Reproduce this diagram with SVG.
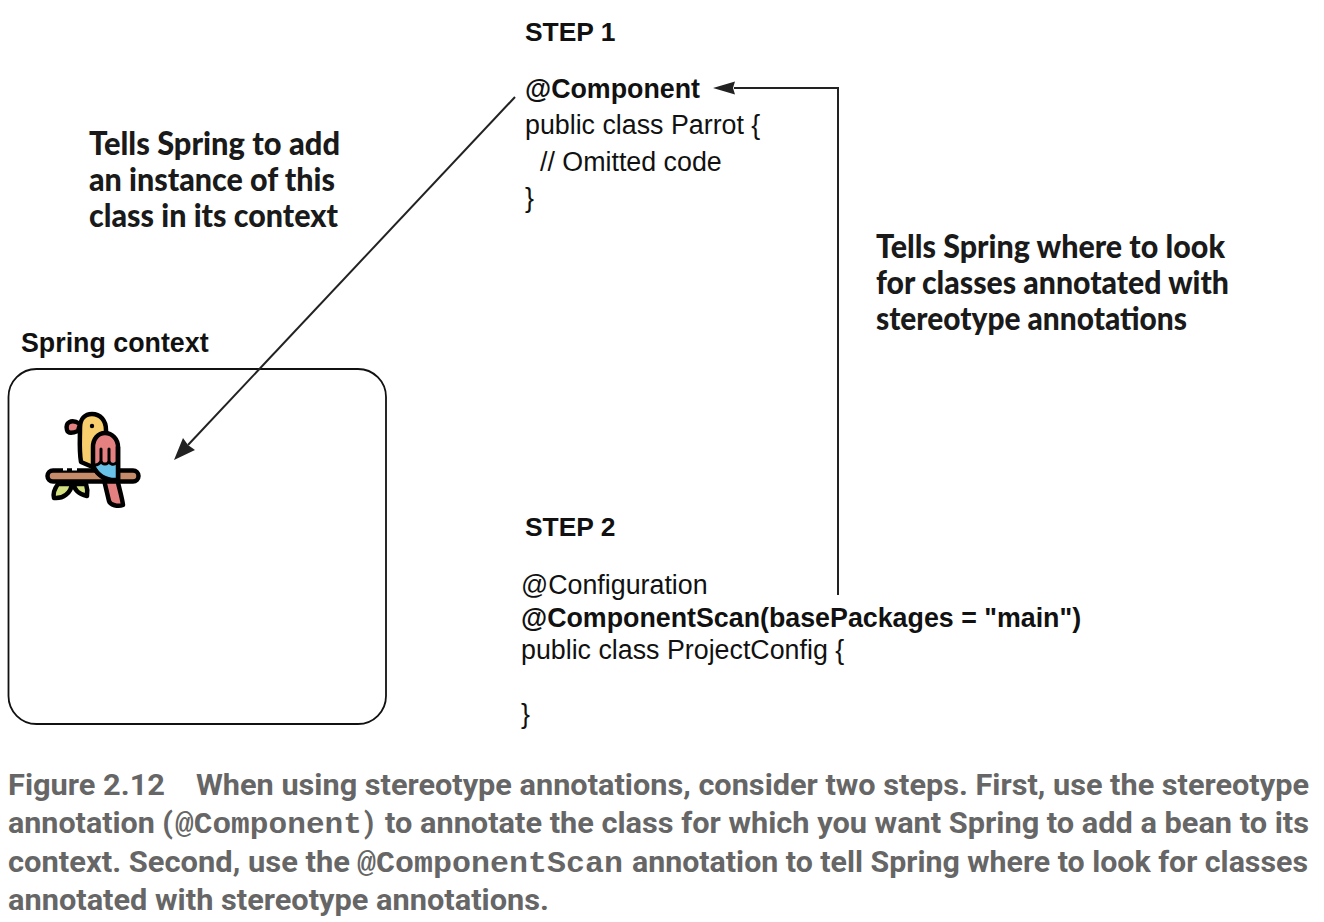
<svg xmlns="http://www.w3.org/2000/svg" width="1324" height="922" viewBox="0 0 1324 922">
<style>
.c{font-family:"Liberation Sans",Arial,sans-serif;font-size:26.800px;fill:#111}
.s{font-size:26.400px}
.b{font-weight:700}
.a{font-family:Lato,"Noto Sans",sans-serif;font-size:32px;font-weight:900;fill:#1a1a1a}
.f{font-family:Roboto,"Liberation Sans",sans-serif;font-size:29px;font-weight:700;fill:#666}
.m{font-family:"Liberation Mono",monospace;font-size:29px;font-weight:700;fill:#666}
.k{stroke:#000;stroke-width:4.500;stroke-linejoin:round;stroke-linecap:round}
.l{fill:none;stroke:#222;stroke-width:2}
.h{fill:#222}
</style>
<g id="spring-context">
<text class="c b" x="21" y="351.500">Spring context</text>
<rect x="8.500" y="369" width="377.500" height="355" rx="28" fill="#fff" stroke="#111" stroke-width="1.800"/>
</g>
<g id="connectors">
<path class="l" d="M838 595V88H734"/>
<path class="h" d="M713 88L735 81.500L733 88L735 94.500Z"/>
<path class="l" d="M515 97L188 445"/>
<path class="h" d="M174 460L183 438L188 445L195 450Z"/>
</g>
<g id="step1">
<text class="c b s" x="525" y="40.500">STEP 1</text>
<text class="c b" x="525" y="97.500">@Component</text>
<text class="c" x="525" y="133.500">public class Parrot {</text>
<text class="c" x="540" y="170.500">// Omitted code</text>
<text class="c" x="525" y="206.500">}</text>
</g>
<g id="step2">
<text class="c b s" x="525" y="536">STEP 2</text>
<text class="c" x="521" y="593.500">@Configuration</text>
<text class="c b" x="521" y="626.500">@ComponentScan(basePackages = "main")</text>
<text class="c" x="521" y="658.500">public class ProjectConfig {</text>
<text class="c" x="521" y="722.500">}</text>
</g>
<g id="note-add">
<text class="a" x="89" y="155" textLength="251" lengthAdjust="spacingAndGlyphs">Tells Spring to add</text>
<text class="a" x="89" y="191" textLength="246" lengthAdjust="spacingAndGlyphs">an instance of this</text>
<text class="a" x="89" y="227" textLength="249" lengthAdjust="spacingAndGlyphs">class in its context</text>
</g>
<g id="note-scan">
<text class="a" x="876" y="258" textLength="349" lengthAdjust="spacingAndGlyphs">Tells Spring where to look</text>
<text class="a" x="876" y="294" textLength="353" lengthAdjust="spacingAndGlyphs">for classes annotated with</text>
<text class="a" x="876" y="330" textLength="311" lengthAdjust="spacingAndGlyphs">stereotype annotations</text>
</g>
<g id="parrot">
<path class="k" fill="#D4E07F" d="M58 484C55 488 53 494 54 498C63 499 71 493 72 484Z"/>
<path class="k" fill="#D4E07F" d="M74 484C74 489 78 494 87 496C88 490 87 487 86 484Z"/>
<path class="k" fill="#E58080" d="M104 480L109 501C110 505 118 507 123 505C122 497 119 488 117 478Z"/>
<rect class="k" x="47.500" y="470.500" width="91" height="11" rx="5.500" fill="#C68C6A"/>
<path d="M63 468h4v2.500h-4zM72 468h5v2.500h-5z" fill="#fff"/>
<path class="k" fill="#E58080" d="M80 424C71 418 65 423 67 430C68 434 73 433 78 431Z"/>
<path class="k" fill="#F9CF6E" d="M81 462C79 450 80 440 80 428C80 419 85 414 92 414C100 414 106 420 106 430L106 440L95 468Z"/>
<circle cx="92" cy="426" r="2.200" fill="#000"/>
<path class="k" fill="#E58080" d="M93 466L93 447C93 439 98 433 105 433C112 433 118 439 118 447L118 480C106 481 98 476 93 466Z"/>
<path fill="#69C3E8" d="M95 465L116 462L116 478C106 479 99 475 95 465Z"/>
<path class="k" fill="none" style="stroke-width:3" d="M95 465C98 465 100 463 101 461C102 465 108 465 109 461C110 465 114 465 116 463M101 449V461M109 449V461"/>
<path class="k" fill="none" d="M93 466C98 476 106 481 118 480V447"/>
</g>
<g id="caption">
<text class="f" x="8" y="795" textLength="157" lengthAdjust="spacingAndGlyphs">Figure 2.12</text>
<text class="f" x="196" y="795" textLength="1113" lengthAdjust="spacingAndGlyphs">When using stereotype annotations, consider two steps. First, use the stereotype</text>
<text class="f" x="8" y="833" textLength="165" lengthAdjust="spacingAndGlyphs">annotation (</text>
<text class="m" x="175" y="833" textLength="187" lengthAdjust="spacingAndGlyphs">@Component</text>
<text class="f" x="364" y="833">)</text>
<text class="f" x="385" y="833" textLength="924" lengthAdjust="spacingAndGlyphs">to annotate the class for which you want Spring to add a bean to its</text>
<text class="f" x="8" y="872" textLength="342" lengthAdjust="spacingAndGlyphs">context. Second, use the</text>
<text class="m" x="357" y="872" textLength="266" lengthAdjust="spacingAndGlyphs">@ComponentScan</text>
<text class="f" x="632" y="872" textLength="676" lengthAdjust="spacingAndGlyphs">annotation to tell Spring where to look for classes</text>
<text class="f" x="8" y="910" textLength="541" lengthAdjust="spacingAndGlyphs">annotated with stereotype annotations.</text>
</g>
</svg>
